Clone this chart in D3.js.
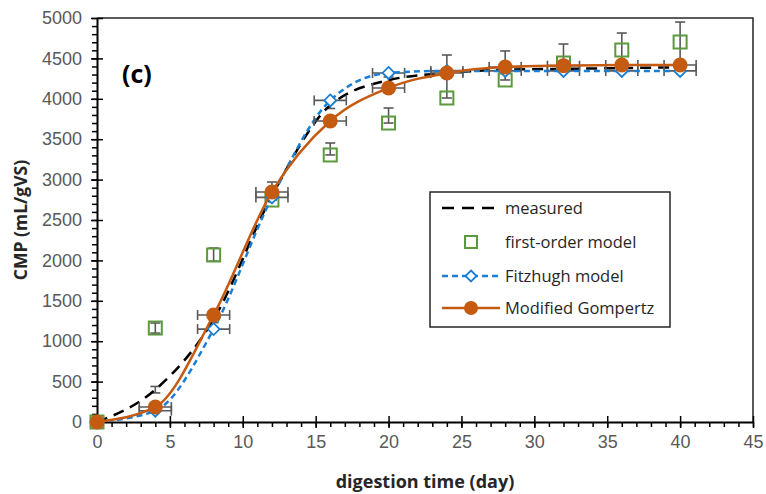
<!DOCTYPE html>
<html>
<head>
<meta charset="utf-8">
<script src="https://cdn.jsdelivr.net/npm/d3@7"></script>
<style>
  body { margin: 0; background: #fff; }
  svg { display: block; font-family: "Open Sans", sans-serif; }
</style>
</head>
<body>
<div id="chart"></div>
<script>
// digestion days and series
const days = [0, 4, 8, 12, 16, 20, 24, 28, 32, 36, 40];
const measured = [0, 400, 1270, 2800, 3920, 4230, 4320, 4360, 4370, 4380, 4390];
const measuredErr = [0, 40, 40, 40, 40, 40, 40, 40, 40, 40, 40];
const firstOrder = [0, 1163, 2067, 2747, 3305, 3700, 4010, 4233, 4443, 4604, 4703];
const firstOrderErrTop = [0, 1225, 2153, 2970, 3453, 3886, 4542, 4592, 4678, 4814, 4950];
const firstOrderErrBottom = [0, 1100, 1990, 2747, 3305, 3700, 4010, 4233, 4420, 4420, 4440];
const fitzhugh = [0, 140, 1150, 2780, 3980, 4320, 4345, 4345, 4345, 4345, 4345];
const gompertz = [0, 186, 1324, 2847, 3725, 4134, 4319, 4394, 4410, 4418, 4418];
const dayErr = 1.1;

const xTicks = [0, 5, 10, 15, 20, 25, 30, 35, 40, 45];
const yTicks = [0, 500, 1000, 1500, 2000, 2500, 3000, 3500, 4000, 4500, 5000];

const legendItems = ["measured", "first-order model", "Fitzhugh model", "Modified Gompertz"];

const width = 766, height = 494;
const margin = { top: 18, right: 13, bottom: 72, left: 97 };
const w = width - margin.left - margin.right;
const h = height - margin.top - margin.bottom;

const orange = "#c55a11", blue = "#1a7fd4", green = "#5a9a3c", grey = "#595959";

const svg = d3.select("#chart").append("svg")
  .attr("width", width)
  .attr("height", height);

const g = svg.append("g")
  .attr("transform", `translate(${margin.left},${margin.top})`);

const x = d3.scaleLinear().domain([0, 45]).range([0, w]);
const y = d3.scaleLinear().domain([0, 5000]).range([h, 0]);

// plot frame (top and right)
g.append("path")
  .attr("d", `M0,0H${w}V${h}`)
  .attr("fill", "none")
  .attr("stroke", "#262626")
  .attr("stroke-width", 1.5);

// minor ticks
g.append("g")
  .attr("transform", `translate(0,${h})`)
  .call(d3.axisBottom(x).ticks(45).tickSize(5).tickFormat(""))
  .call(a => a.select(".domain").remove())
  .selectAll("line").attr("stroke", "#000").attr("stroke-width", 1.5);

g.append("g")
  .call(d3.axisLeft(y).ticks(50).tickSize(5).tickFormat(""))
  .call(a => a.select(".domain").remove())
  .selectAll("line").attr("stroke", "#000").attr("stroke-width", 1.5);

// major ticks crossing the axes
const xAxis = g.append("g")
  .attr("transform", `translate(0,${h})`)
  .call(d3.axisBottom(x).tickValues(xTicks).tickSize(6).tickSizeOuter(0).tickPadding(7));
xAxis.selectAll(".tick line").attr("y1", -6).attr("stroke", "#000").attr("stroke-width", 1.5);
xAxis.select(".domain").attr("stroke", "#000").attr("stroke-width", 2);
xAxis.selectAll("text").attr("fill", grey).style("font-size", "18px");

const yAxis = g.append("g")
  .call(d3.axisLeft(y).tickValues(yTicks).tickSize(6).tickSizeOuter(0).tickPadding(9)
    .tickFormat(d3.format("d")));
yAxis.selectAll(".tick line").attr("x1", 6).attr("stroke", "#000").attr("stroke-width", 1.5);
yAxis.select(".domain").attr("stroke", "#000").attr("stroke-width", 2);
yAxis.selectAll("text").attr("fill", grey).style("font-size", "18px");

// axis titles
g.append("text")
  .attr("x", w / 2)
  .attr("y", h + 66)
  .attr("text-anchor", "middle")
  .attr("fill", "#262626")
  .style("font-size", "18px")
  .style("font-weight", "bold")
  .text("digestion time (day)");

g.append("text")
  .attr("transform", "rotate(-90)")
  .attr("x", -h / 2)
  .attr("y", -70)
  .attr("text-anchor", "middle")
  .attr("fill", "#262626")
  .style("font-size", "17.5px")
  .style("font-weight", "bold")
  .text("CMP (mL/gVS)");

g.append("text")
  .attr("x", 25)
  .attr("y", 65)
  .attr("fill", "#000")
  .style("font-size", "25px")
  .style("font-weight", "bold")
  .text("(c)");

const rows = days.map((d, i) => ({
  day: d, meas: measured[i], mErr: measuredErr[i],
  fo: firstOrder[i], foTop: firstOrderErrTop[i], foBot: firstOrderErrBottom[i],
  fh: fitzhugh[i], gz: gompertz[i]
}));

const smooth = key => d3.line()
  .x(d => x(d.day))
  .y(d => y(d[key]))
  .curve(d3.curveMonotoneX);

// error bar helpers
function vBar(sel, data, lo, hi) {
  const eg = sel.append("g").attr("stroke", grey).attr("stroke-width", 1.6);
  data.filter(d => d.day > 0).forEach(d => {
    eg.append("line").attr("x1", x(d.day)).attr("x2", x(d.day)).attr("y1", y(lo(d))).attr("y2", y(hi(d)));
    eg.append("line").attr("x1", x(d.day) - 5).attr("x2", x(d.day) + 5).attr("y1", y(hi(d))).attr("y2", y(hi(d)));
    eg.append("line").attr("x1", x(d.day) - 5).attr("x2", x(d.day) + 5).attr("y1", y(lo(d))).attr("y2", y(lo(d)));
  });
}
function hBar(sel, data, key) {
  const eg = sel.append("g").attr("stroke", grey).attr("stroke-width", 1.6);
  data.filter(d => d.day > 0).forEach(d => {
    const x0 = x(d.day - dayErr), x1 = x(d.day + dayErr), yy = y(d[key]);
    eg.append("line").attr("x1", x0).attr("x2", x1).attr("y1", yy).attr("y2", yy);
    eg.append("line").attr("x1", x0).attr("x2", x0).attr("y1", yy - 5).attr("y2", yy + 5);
    eg.append("line").attr("x1", x1).attr("x2", x1).attr("y1", yy - 5).attr("y2", yy + 5);
  });
}

// measured
vBar(g, rows, d => d.meas - d.mErr, d => d.meas + d.mErr);
g.append("path")
  .datum(rows)
  .attr("fill", "none")
  .attr("stroke", "#000")
  .attr("stroke-width", 2.5)
  .attr("stroke-dasharray", "11,7")
  .attr("d", smooth("meas"));

// first-order model
vBar(g, rows, d => d.foBot, d => d.foTop);
g.selectAll(".fo")
  .data(rows)
  .enter()
  .append("rect")
    .attr("x", d => x(d.day) - 6.5)
    .attr("y", d => y(d.fo) - 6.5)
    .attr("width", 13)
    .attr("height", 13)
    .attr("fill", "none")
    .attr("stroke", green)
    .attr("stroke-width", 2);

// Fitzhugh model
hBar(g, rows, "fh");
g.append("path")
  .datum(rows)
  .attr("fill", "none")
  .attr("stroke", blue)
  .attr("stroke-width", 2.5)
  .attr("stroke-dasharray", "6,4")
  .attr("d", smooth("fh"));

const diamond = (cx, cy, r) => `M${cx},${cy - r}L${cx + r},${cy}L${cx},${cy + r}L${cx - r},${cy}Z`;
g.selectAll(".fh")
  .data(rows)
  .enter()
  .append("path")
    .attr("d", d => diamond(x(d.day), y(d.fh), 6))
    .attr("fill", "#fff")
    .attr("stroke", blue)
    .attr("stroke-width", 1.8);

// Modified Gompertz
hBar(g, rows, "gz");
g.append("path")
  .datum(rows)
  .attr("fill", "none")
  .attr("stroke", orange)
  .attr("stroke-width", 2.5)
  .attr("d", smooth("gz"));

g.selectAll(".gz")
  .data(rows)
  .enter()
  .append("circle")
    .attr("cx", d => x(d.day))
    .attr("cy", d => y(d.gz))
    .attr("r", 7.5)
    .attr("fill", orange);

// Legend
const lg = svg.append("g").attr("transform", "translate(430,192)");
lg.append("rect")
  .attr("width", 240)
  .attr("height", 135)
  .attr("fill", "#fff")
  .attr("stroke", "#262626")
  .attr("stroke-width", 1.5);

const rowY = [16, 50, 84, 116];
legendItems.forEach((name, i) => {
  lg.append("text")
    .attr("x", 75)
    .attr("y", rowY[i])
    .attr("dy", "0.35em")
    .attr("fill", "#262626")
    .style("font-size", "16.5px")
    .text(name);
});

lg.append("line").attr("x1", 12).attr("x2", 70).attr("y1", rowY[0]).attr("y2", rowY[0])
  .attr("stroke", "#000").attr("stroke-width", 2.5).attr("stroke-dasharray", "12,8");
lg.append("rect").attr("x", 35).attr("y", rowY[1] - 6).attr("width", 12).attr("height", 12)
  .attr("fill", "none").attr("stroke", green).attr("stroke-width", 2);
lg.append("line").attr("x1", 12).attr("x2", 70).attr("y1", rowY[2]).attr("y2", rowY[2])
  .attr("stroke", blue).attr("stroke-width", 2.5).attr("stroke-dasharray", "6,4");
lg.append("path").attr("d", diamond(41, rowY[2], 5.5))
  .attr("fill", "#fff").attr("stroke", blue).attr("stroke-width", 1.8);
lg.append("line").attr("x1", 12).attr("x2", 70).attr("y1", rowY[3]).attr("y2", rowY[3])
  .attr("stroke", orange).attr("stroke-width", 2.5);
lg.append("circle").attr("cx", 41).attr("cy", rowY[3]).attr("r", 7).attr("fill", orange);
</script>
</body>
</html>
